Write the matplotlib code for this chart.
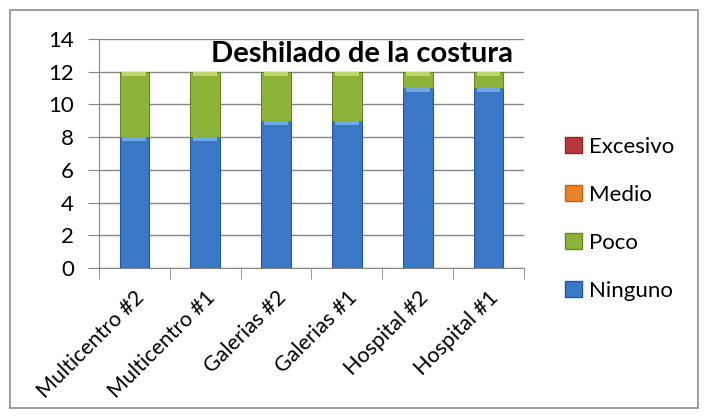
import numpy as np
import matplotlib.pyplot as plt
from matplotlib.patches import Rectangle, Patch

plt.rcParams['font.family'] = ['Lato', 'DejaVu Sans']

# datos
sitios = ['Multicentro #2', 'Multicentro #1', 'Galerias #2', 'Galerias #1', 'Hospital #2', 'Hospital #1']
ninguno = [8, 8, 9, 9, 11, 11]
poco = [4, 4, 3, 3, 1, 1]
medio = [0, 0, 0, 0, 0, 0]
excesivo = [0, 0, 0, 0, 0, 0]
titulo = 'Deshilado de la costura'

fig = plt.figure(figsize=(7.04, 4.18), dpi=100)
ax = fig.add_axes([0.1406, 0.3589, 0.6037, 0.5478])

x = np.arange(len(sitios))
w = 0.42


def anchos(vals):
    # sin borde para los segmentos vacios
    return [0.8 if v > 0 else 0 for v in vals]


ax.bar(x, ninguno, w, color='#3a77c6', edgecolor='#28579a', linewidth=anchos(ninguno), zorder=3)
ax.bar(x, poco, w, bottom=ninguno, color='#8db33a', edgecolor='#67862a', linewidth=anchos(poco), zorder=3)
bot = np.array(ninguno) + np.array(poco)
ax.bar(x, medio, w, bottom=bot, color='#e9842b', edgecolor='#b8651c', linewidth=anchos(medio), zorder=3)
ax.bar(x, excesivo, w, bottom=bot + np.array(medio), color='#b9393a', edgecolor='#8c2a2a', linewidth=anchos(excesivo), zorder=3)

# brillo arriba de cada segmento
ax.bar(x, [0.25] * len(x), w * 0.8, bottom=np.array(ninguno) - 0.25, color='#6fa8e6', linewidth=0, zorder=4)
ax.bar(x, [0.25] * len(x), w * 0.8, bottom=bot - 0.25, color='#bcd86a', linewidth=0, zorder=4)

ax.set_xlim(-0.5, len(sitios) - 0.5)
ax.set_ylim(0, 14)
ax.set_yticks(range(0, 15, 2))
ax.tick_params(axis='y', labelsize=16, length=8, color='#878787', pad=10)
ax.set_xticks(x)
ax.set_xticklabels(sitios, rotation=45, ha='right', va='top', rotation_mode='anchor', fontsize=15.5)
ax.tick_params(axis='x', length=0, pad=14)
ax.set_xticks(np.arange(-0.5, len(sitios), 1), minor=True)
ax.tick_params(axis='x', which='minor', length=8, color='#878787')
ax.grid(axis='y', color='#878787', linewidth=1, zorder=0)
for s in ['top', 'right']:
    ax.spines[s].set_visible(False)
ax.spines['left'].set_color('#878787')
ax.spines['bottom'].set_color('#878787')

ax.text(0.975, 0.935, titulo, transform=ax.transAxes, ha='right', va='center',
        fontsize=21, fontweight='bold', zorder=5)

# leyenda en orden inverso al apilado
handles = [Patch(facecolor='#b9393a', edgecolor='#8c2a2a', label='Excesivo'),
           Patch(facecolor='#e9842b', edgecolor='#b8651c', label='Medio'),
           Patch(facecolor='#8db33a', edgecolor='#67862a', label='Poco'),
           Patch(facecolor='#3a77c6', edgecolor='#28579a', label='Ninguno')]
fig.legend(handles=handles, loc='center left',
           bbox_to_anchor=(0.803, 0.476), frameon=False, fontsize=16,
           handlelength=0.75, handleheight=0.75, handletextpad=0.3,
           labelspacing=1.26, borderpad=0, borderaxespad=0)

fig.patches.append(Rectangle((10 / 704, 10 / 418), 688 / 704, 398 / 418, transform=fig.transFigure,
                             fill=False, edgecolor='#8c8c8c', linewidth=1.2))

fig.savefig('out.png', dpi=100)
